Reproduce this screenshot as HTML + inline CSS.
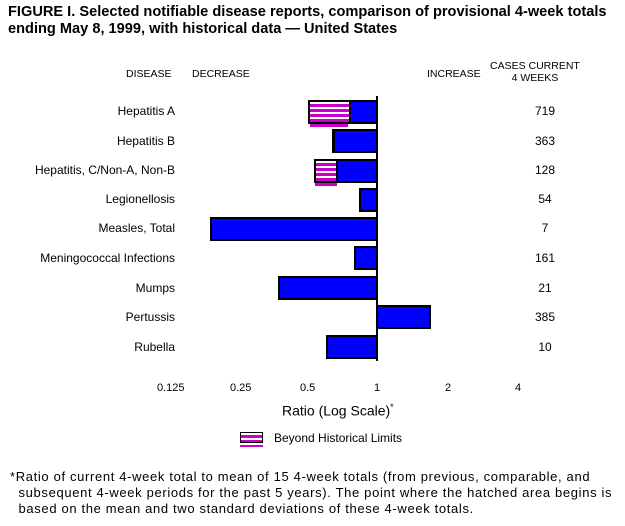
<!DOCTYPE html><html><head><style>
body{margin:0;background:#fff;font-family:"Liberation Sans",sans-serif;}
.c{position:relative;width:625px;height:526px;overflow:hidden;}
.t{position:absolute;font-size:12px;color:#000;white-space:nowrap}
.b{position:absolute;box-sizing:border-box;border:2px solid #000;background:#0000ff}
.h{position:absolute;box-sizing:border-box;border:2px solid #000;background:repeating-linear-gradient(#fff 0 2px,#c800c8 2px 5px)}
.u{position:absolute;height:3px;background:#c800c8}
.r{text-align:right;width:170px;left:5px}
.n{text-align:center;width:60px;left:515px}
</style></head><body><div class="c">
<div class="t" style="left:8px;top:4px;font-weight:bold;font-size:14.6px;line-height:17px">FIGURE I. Selected notifiable disease reports, comparison of provisional 4-week totals<br>ending May 8, 1999, with historical data — United States</div>
<div class="t" style="left:126px;top:68px;font-size:10.5px">DISEASE</div>
<div class="t" style="left:192px;top:68px;font-size:10.5px">DECREASE</div>
<div class="t" style="left:427px;top:68px;font-size:10.5px">INCREASE</div>
<div class="t" style="left:490px;top:60px;font-size:10.5px;text-align:center;line-height:12px">CASES CURRENT<br>4 WEEKS</div>
<div style="position:absolute;left:376px;top:96px;width:2px;height:265px;background:#000"></div>

<div class="t r" style="top:104px">Hepatitis A</div><div class="t n" style="top:104px">719</div>
<div class="b" style="left:349px;top:100px;width:29px;height:24px"></div>
<div class="h" style="left:308px;top:100px;width:43px;height:24px"></div>
<div class="u" style="left:310px;top:124px;width:38px"></div>

<div class="t r" style="top:134px">Hepatitis B</div><div class="t n" style="top:134px">363</div>
<div class="b" style="left:332px;top:129px;width:46px;height:24px;border-left-width:3px"></div>

<div class="t r" style="top:163px">Hepatitis, C/Non-A, Non-B</div><div class="t n" style="top:163px">128</div>
<div class="b" style="left:335px;top:159px;width:43px;height:24px"></div>
<div class="h" style="left:314px;top:159px;width:24px;height:24px"></div>
<div class="u" style="left:315px;top:183px;width:22px"></div>

<div class="t r" style="top:192px">Legionellosis</div><div class="t n" style="top:192px">54</div>
<div class="b" style="left:359px;top:188px;width:19px;height:24px"></div>

<div class="t r" style="top:221px">Measles, Total</div><div class="t n" style="top:221px">7</div>
<div class="b" style="left:210px;top:217px;width:168px;height:24px"></div>

<div class="t r" style="top:251px">Meningococcal Infections</div><div class="t n" style="top:251px">161</div>
<div class="b" style="left:354px;top:246px;width:24px;height:24px"></div>

<div class="t r" style="top:281px">Mumps</div><div class="t n" style="top:281px">21</div>
<div class="b" style="left:278px;top:276px;width:100px;height:24px"></div>

<div class="t r" style="top:310px">Pertussis</div><div class="t n" style="top:310px">385</div>
<div class="b" style="left:376px;top:305px;width:55px;height:24px"></div>

<div class="t r" style="top:340px">Rubella</div><div class="t n" style="top:340px">10</div>
<div class="b" style="left:326px;top:335px;width:52px;height:24px"></div>

<div class="t" style="left:157px;top:382px;font-size:11px">0.125</div>
<div class="t" style="left:230px;top:382px;font-size:11px">0.25</div>
<div class="t" style="left:300px;top:382px;font-size:11px">0.5</div>
<div class="t" style="left:374px;top:382px;font-size:11px">1</div>
<div class="t" style="left:445px;top:382px;font-size:11px">2</div>
<div class="t" style="left:515px;top:382px;font-size:11px">4</div>
<div class="t" style="left:282px;top:402px;font-size:14px">Ratio (Log Scale)<sup style="font-size:9px">*</sup></div>
<div class="h" style="left:240px;top:432px;width:23px;height:11px;border-width:1px"></div>
<div class="u" style="left:240px;top:445px;width:23px;height:2px"></div>
<div class="t" style="left:274px;top:431px">Beyond Historical Limits</div>
<div class="t" style="left:10px;top:469px;line-height:16px;font-size:13px;letter-spacing:0.65px">*Ratio of current 4-week total to mean of 15 4-week totals (from previous, comparable, and<br>&nbsp;&nbsp;subsequent 4-week periods for the past 5 years). The point where the hatched area begins is<br>&nbsp;&nbsp;based on the mean and two standard deviations of these 4-week totals.</div>
</div></body></html>
